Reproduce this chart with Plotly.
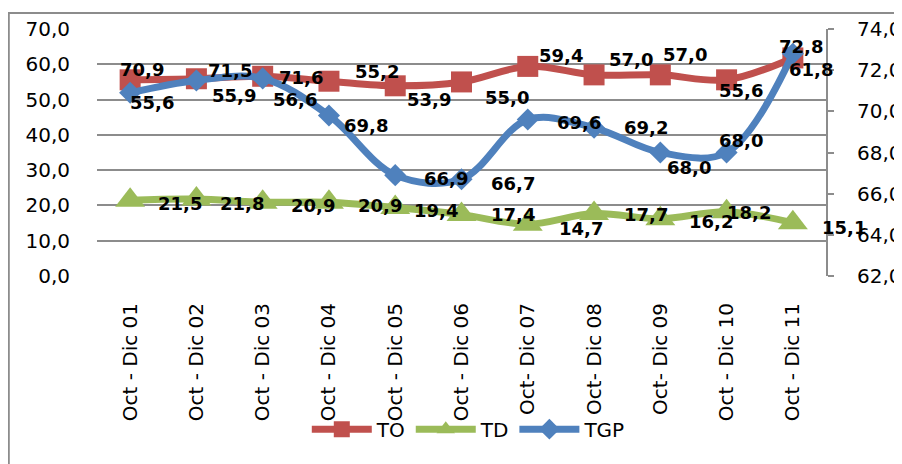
import plotly.graph_objects as go

categories = ["Oct - Dic 01", "Oct - Dic 02", "Oct - Dic 03", "Oct - Dic 04", "Oct - Dic 05",
              "Oct - Dic 06", "Oct- Dic 07", "Oct- Dic 08", "Oct- Dic 09", "Oct - Dic 10", "Oct - Dic 11"]
to_values = [55.6, 55.9, 56.6, 55.2, 53.9, 55.0, 59.4, 57.0, 57.0, 55.6, 61.8]
td_values = [21.5, 21.8, 20.9, 20.9, 19.4, 17.4, 14.7, 17.7, 16.2, 18.2, 15.1]
tgp_values = [70.9, 71.5, 71.6, 69.8, 66.9, 66.7, 69.6, 69.2, 68.0, 68.0, 72.8]
left_ticks = [0, 10, 20, 30, 40, 50, 60, 70]
right_ticks = [62, 64, 66, 68, 70, 72, 74]

# label offsets in pixels (dx right, dy down) relative to each point
to_off = [(22, 23), (38, 17), (32, 23), (48, -10), (34, 14), (45, 16), (33, -11), (37, -15), (25, -20), (14, 11), (18, 12)]
tgp_off = [(12, -23), (34, -10), (38, -1), (37, 10), (51, 3), (51, 4), (51, 3), (52, 0), (29, 15), (14, -12), (8, -7)]
td_off = [(50, 3), (46, 4), (50, 3), (51, 3), (41, 3), (51, 0), (53, 4), (52, 1), (51, 3), (22, 1), (51, 5)]

RED = "#C0504D"
GREEN = "#9BBB59"
BLUE = "#4F81BD"
GRID = "#8C8C8C"
FONT = "DejaVu Sans"

fig = go.Figure()
fig.add_trace(go.Scatter(x=categories, y=to_values, name="TO", mode="lines+markers",
                         line=dict(color=RED, width=7, shape="spline", smoothing=1),
                         marker=dict(symbol="square", size=21, color=RED)))
fig.add_trace(go.Scatter(x=categories, y=td_values, name="TD", mode="lines+markers",
                         line=dict(color=GREEN, width=7, shape="spline", smoothing=1),
                         marker=dict(symbol="triangle-up", size=26, color=GREEN)))
fig.add_trace(go.Scatter(x=categories, y=tgp_values, name="TGP", mode="lines+markers", yaxis="y2",
                         line=dict(color=BLUE, width=7, shape="spline", smoothing=1),
                         marker=dict(symbol="diamond", size=17, color=BLUE)))

def fmt(v):
    return f"{v:.1f}".replace(".", ",")

annotations = []
for vals, offs, yref in [(to_values, to_off, "y"), (td_values, td_off, "y"), (tgp_values, tgp_off, "y2")]:
    for c, v, (dx, dy) in zip(categories, vals, offs):
        annotations.append(dict(x=c, y=v, xref="x", yref=yref, text="<b>" + fmt(v) + "</b>",
                                showarrow=False, xshift=dx, yshift=-dy,
                                font=dict(family=FONT, size=18, color="black")))

# the page body has an 8px margin, so the figure is sized to fill the rest of the window
fig.update_layout(
    width=894, height=456,
    margin=dict(l=89, r=76, t=21, b=188, autoexpand=False),
    paper_bgcolor="white", plot_bgcolor="white",
    showlegend=True,
    hovermode=False,
    annotations=annotations,
    legend=dict(orientation="h", x=0.51, xanchor="center", y=-0.62, yanchor="middle",
                font=dict(family=FONT, size=20, color="black"), bgcolor="rgba(0,0,0,0)",
                itemwidth=60, tracegroupgap=0),
    xaxis=dict(type="category", range=[-0.5, 10.5], tickangle=-90, showgrid=False,
               showline=False, ticks="", ticklabelstandoff=22, automargin=False,
               tickfont=dict(family=FONT, size=20, color="black")),
    yaxis=dict(range=[0, 70], tickvals=left_ticks, ticktext=[fmt(t) for t in left_ticks],
               showgrid=True, gridcolor=GRID, gridwidth=2, zeroline=False, showline=False,
               ticks="", ticklabelstandoff=26, automargin=False,
               tickfont=dict(family=FONT, size=20, color="black")),
    yaxis2=dict(range=[62, 74], tickvals=right_ticks, ticktext=[fmt(t) for t in right_ticks],
                overlaying="y", side="right", showgrid=False, zeroline=False,
                showline=True, linecolor=GRID, linewidth=2, ticks="outside", ticklen=6,
                tickcolor=GRID, tickwidth=2, ticklabelstandoff=19, automargin=False,
                tickfont=dict(family=FONT, size=20, color="black")),
    shapes=[dict(type="rect", xref="paper", yref="paper", x0=-0.121, x1=1.2, y0=-0.9, y1=1.065,
                 line=dict(color=GRID, width=2), fillcolor="rgba(0,0,0,0)", layer="below")],
)

fig.write_html("out.html")
